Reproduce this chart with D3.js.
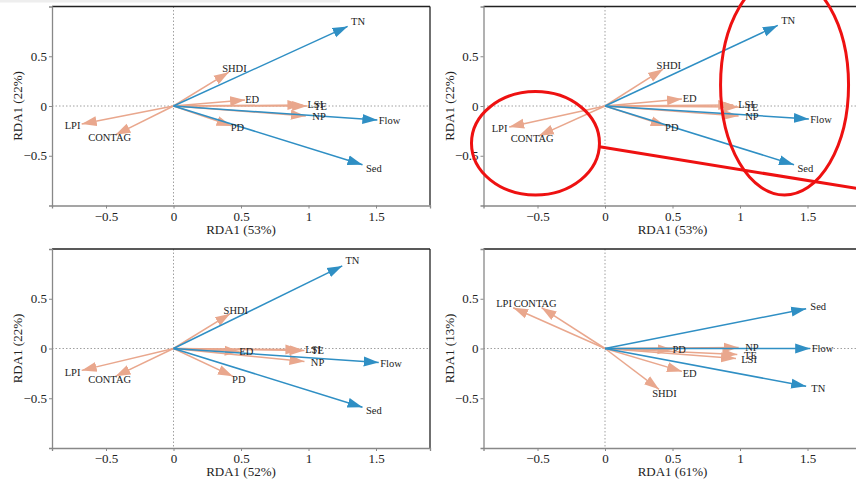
<!DOCTYPE html>
<html>
<head>
<meta charset="utf-8">
<script src="https://cdn.jsdelivr.net/npm/d3@7"></script>
<style>
  body { margin: 0; background: #fff; }
  svg { display: block; }
</style>
</head>
<body>
<div id="plot"></div>
<script>
// variable names
const envVars = ["TN", "Flow", "Sed"];
const landVars = ["SHDI", "ED", "LSI", "TE", "NP", "PD", "LPI", "CONTAG"];

// arrow tips, [RDA1, RDA2] per variable, one list per panel
const p1Env = [[1.29, 0.80], [1.51, -0.14], [1.40, -0.59]];
const p1Land = [[0.41, 0.34], [0.53, 0.06], [0.955, 0.01], [0.99, 0.0], [0.98, -0.10], [0.43, -0.20], [-0.68, -0.18], [-0.43, -0.29]];

const p2Env = [[1.28, 0.81], [1.51, -0.13], [1.40, -0.59]];
const p2Land = [[0.43, 0.37], [0.57, 0.07], [0.95, 0.01], [0.99, -0.01], [0.99, -0.10], [0.45, -0.20], [-0.71, -0.21], [-0.49, -0.30]];

const p3Env = [[1.25, 0.83], [1.52, -0.14], [1.40, -0.59]];
const p3Land = [[0.42, 0.35], [0.49, -0.03], [0.94, -0.01], [0.97, -0.02], [0.97, -0.13], [0.44, -0.28], [-0.68, -0.22], [-0.43, -0.28]];

const p4Env = [[1.49, -0.38], [1.52, 0.0], [1.49, 0.40]];
const p4Land = [[0.40, -0.41], [0.57, -0.23], [0.97, -0.10], [0.98, -0.06], [0.99, 0.01], [0.50, -0.01], [-0.68, 0.41], [-0.47, 0.41]];

const xTitles = ["RDA1 (53%)", "RDA1 (53%)", "RDA1 (52%)", "RDA1 (61%)"];
const yTitles = ["RDA1 (22%)", "RDA1 (22%)", "RDA1 (22%)", "RDA1 (13%)"];
const xTicks = [-0.5, 0, 0.5, 1, 1.5];
const yTicks = [-0.5, 0, 0.5];

// red annotation marks on panel 2 (data units)
const annoEllipses = [[-0.515, -0.375, 0.474, 0.52], [1.33, 0.21, 0.474, 1.105]];
const annoLine = [[-0.04, -0.41], [1.87, -0.83]];

const W = 856, H = 482;
const blue = "#2f8fc4", salmon = "#e9a78d";
const serif = "'Liberation Serif'";

const panels = [
  {left: 52, top: 6.5, env: p1Env, land: p1Land},
  {left: 483.5, top: 6.5, env: p2Env, land: p2Land},
  {left: 52, top: 249, env: p3Env, land: p3Land},
  {left: 483.5, top: 249, env: p4Env, land: p4Land}
];
const pw = 378, ph = 199;

const svg = d3.select("#plot").append("svg")
    .attr("width", W)
    .attr("height", H);

// faint strip on top edge of the screenshot
svg.append("rect").attr("x", 0).attr("y", 0).attr("width", 340).attr("height", 2.5).attr("fill", "#eeeeee");

const defs = svg.append("defs");
[["blueHead", blue], ["salmonHead", salmon]].forEach(([id, c]) => {
    defs.append("marker")
        .attr("id", id)
        .attr("markerUnits", "userSpaceOnUse")
        .attr("viewBox", "0 -6 16 12")
        .attr("refX", 15).attr("refY", 0)
        .attr("markerWidth", 16).attr("markerHeight", 12)
        .attr("orient", "auto")
      .append("path")
        .attr("d", "M0,-5L15,0L0,5Z")
        .attr("fill", c);
});

panels.forEach((p, i) => {
    const g = svg.append("g").attr("transform", "translate(" + p.left + "," + p.top + ")");

    const x = d3.scaleLinear().domain([-0.9, 1.9]).range([0, pw]);
    const y = d3.scaleLinear().domain([-1, 1]).range([ph, 0]);

    g.append("defs").append("clipPath").attr("id", "clip" + i)
      .append("rect").attr("width", pw).attr("height", ph);

    // zero lines
    g.append("line").attr("x1", 0).attr("x2", pw).attr("y1", y(0)).attr("y2", y(0))
        .attr("stroke", "#888").attr("stroke-width", 0.8).attr("stroke-dasharray", "1.5,2");
    g.append("line").attr("x1", x(0)).attr("x2", x(0)).attr("y1", 0).attr("y2", ph)
        .attr("stroke", "#888").attr("stroke-width", 0.8).attr("stroke-dasharray", "1.5,2");

    // box: top/right dark, left/bottom gray
    g.append("line").attr("x1", 0).attr("x2", pw).attr("y1", 0).attr("y2", 0).attr("stroke", "#222").attr("stroke-width", 1.3);
    g.append("line").attr("x1", pw).attr("x2", pw).attr("y1", 0).attr("y2", ph).attr("stroke", "#222").attr("stroke-width", 1.3);

    const xAxis = g.append("g").attr("transform", "translate(0," + ph + ")")
        .call(d3.axisBottom(x).tickValues(xTicks).tickSize(3).tickPadding(3).tickFormat(d3.format("")));
    const yAxis = g.append("g")
        .call(d3.axisLeft(y).tickValues(yTicks).tickSize(3).tickPadding(2).tickFormat(d3.format("")));
    [xAxis, yAxis].forEach(a => {
        a.select(".domain").attr("stroke", "#888").attr("stroke-width", 1.3);
        a.selectAll(".tick line").attr("stroke", "#888");
        a.selectAll(".tick text")
            .style("font-family", serif).style("font-size", "13px").attr("fill", "#222");
    });

    g.append("text").attr("x", x(0.5)).attr("y", ph + 28)
        .attr("text-anchor", "middle").attr("fill", "#222")
        .style("font-family", serif).style("font-size", "13px").text(xTitles[i]);
    g.append("text").attr("transform", "translate(-30," + (ph / 2) + ") rotate(-90)")
        .attr("text-anchor", "middle").attr("fill", "#222")
        .style("font-family", serif).style("font-size", "13px").text(yTitles[i]);

    const plot = g.append("g").attr("clip-path", "url(#clip" + i + ")");

    // landscape arrows first, then environment arrows on top
    const land = landVars.map((n, k) => ({name: n, v: p.land[k]}));
    const env = envVars.map((n, k) => ({name: n, v: p.env[k]}));

    plot.selectAll(".land").data(land).enter().append("line")
        .attr("x1", x(0)).attr("y1", y(0))
        .attr("x2", d => x(d.v[0])).attr("y2", d => y(d.v[1]))
        .attr("stroke", salmon).attr("stroke-width", 1.5)
        .attr("marker-end", "url(#salmonHead)");
    plot.selectAll(".env").data(env).enter().append("line")
        .attr("x1", x(0)).attr("y1", y(0))
        .attr("x2", d => x(d.v[0])).attr("y2", d => y(d.v[1]))
        .attr("stroke", blue).attr("stroke-width", 1.5)
        .attr("marker-end", "url(#blueHead)");

    plot.selectAll(".landLab").data(land).enter().append("text")
        .attr("x", d => x(d.v[0] * 1.1)).attr("y", d => y(d.v[1] * 1.1))
        .attr("text-anchor", "middle").attr("dominant-baseline", "central").attr("fill", "#222")
        .style("font-family", serif).style("font-size", "10.5px").text(d => d.name);
    plot.selectAll(".envLab").data(env).enter().append("text")
        .attr("x", d => x(d.v[0] * 1.06)).attr("y", d => y(d.v[1] * 1.06))
        .attr("text-anchor", "middle").attr("dominant-baseline", "central").attr("fill", "#222")
        .style("font-family", serif).style("font-size", "10.5px").text(d => d.name);

    // red annotations on panel 2
    if (i === 1) {
        const ann = g.append("g");
        annoEllipses.forEach(e => {
            ann.append("ellipse")
                .attr("cx", x(e[0])).attr("cy", y(e[1]))
                .attr("rx", x(e[2]) - x(0)).attr("ry", y(0) - y(e[3]))
                .attr("fill", "none").attr("stroke", "#ee1111").attr("stroke-width", 3);
        });
        ann.append("line")
            .attr("x1", x(annoLine[0][0])).attr("y1", y(annoLine[0][1]))
            .attr("x2", x(annoLine[1][0])).attr("y2", y(annoLine[1][1]))
            .attr("stroke", "#ee1111").attr("stroke-width", 3);
    }
});
</script>
</body>
</html>
